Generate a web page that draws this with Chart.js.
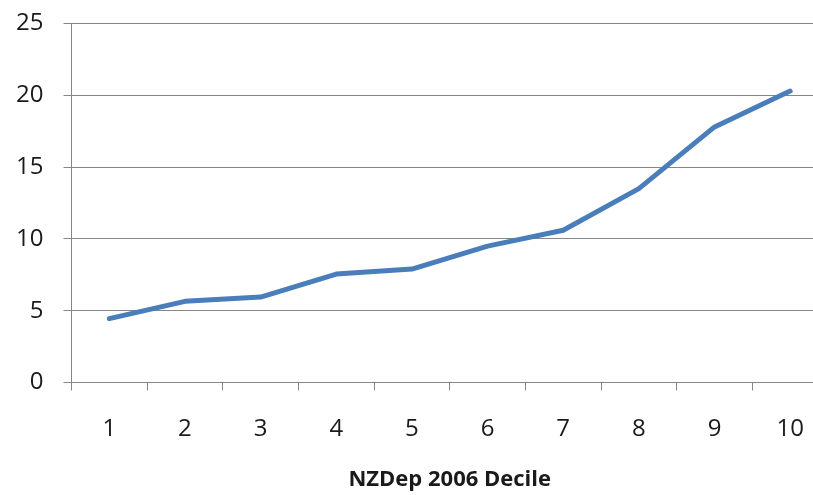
<!DOCTYPE html>
<html>
<head>
<meta charset="utf-8">
<script src="https://cdn.jsdelivr.net/npm/chart.js@4"></script>
<style>
  html, body { margin: 0; padding: 0; background: #fff; overflow: hidden; }
  #wrap { width: 840px; height: 495px; }
</style>
</head>
<body>
<div id="wrap"><canvas id="chart" width="840" height="495"></canvas></div>
<script>
// Decile values
const deciles = ['1', '2', '3', '4', '5', '6', '7', '8', '9', '10'];
const rates = [4.45, 5.65, 5.95, 7.55, 7.9, 9.5, 10.6, 13.5, 17.8, 20.3];
const yTicks = [0, 5, 10, 15, 20, 25];

const axisColor = '#868686';
const textColor = '#1a1a1a';
const tickFont = { family: 'Open Sans', size: 24 };

new Chart(document.getElementById('chart').getContext('2d'), {
  type: 'line',
  data: {
    labels: deciles,
    datasets: [{
      data: rates,
      borderColor: '#4a7ebb',
      borderWidth: 5,
      borderCapStyle: 'round',
      borderJoinStyle: 'round',
      pointRadius: 0,
      tension: 0,
      fill: false
    }]
  },
  options: {
    responsive: false,
    animation: false,
    layout: { padding: { top: 23.5, right: 12, left: 0, bottom: 0 } },
    plugins: { legend: { display: false }, tooltip: { enabled: false } },
    scales: {
      x: {
        offset: true,
        grid: {
          offset: true,
          drawOnChartArea: false,
          color: axisColor,
          tickLength: 8
        },
        border: { color: axisColor },
        ticks: { color: textColor, font: tickFont, padding: 24, maxRotation: 0 },
        title: {
          display: true,
          text: 'NZDep 2006 Decile',
          color: textColor,
          font: { family: 'Open Sans', size: 22, weight: 'bold' },
          padding: { top: 0, bottom: 2 }
        },
        afterFit: (scale) => {
          scale.height = 112.5;
          scale.paddingLeft = 0;
          scale.paddingRight = 0;
        }
      },
      y: {
        min: 0,
        max: 25,
        afterBuildTicks: (scale) => { scale.ticks = yTicks.map(v => ({ value: v })); },
        grid: { color: axisColor, tickLength: 8 },
        border: { color: axisColor },
        ticks: { color: textColor, font: tickFont, padding: 20 },
        afterFit: (scale) => {
          scale.width = 71.5;
          scale.paddingTop = 0;
          scale.paddingBottom = 0;
        }
      }
    }
  }
});
</script>
</body>
</html>
